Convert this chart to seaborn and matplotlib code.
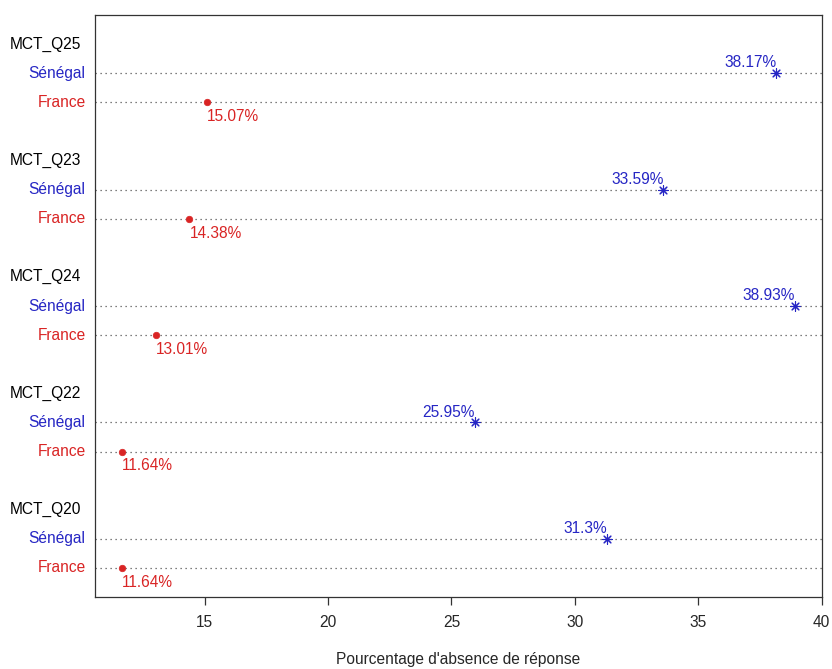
"""
Dot chart: non-response rate per question, France vs Senegal
"""

import numpy as np
import pandas as pd
import matplotlib
matplotlib.use('Agg')
import matplotlib.pyplot as plt
import matplotlib.transforms as mtransforms
import seaborn as sns

# data (bottom to top, as drawn)
questions = ['MCT_Q20', 'MCT_Q22', 'MCT_Q24', 'MCT_Q23', 'MCT_Q25']
france = [11.64, 11.64, 13.01, 14.38, 15.07]
senegal = [31.3, 25.95, 38.93, 33.59, 38.17]
france_labels = ['11.64%', '11.64%', '13.01%', '14.38%', '15.07%']
senegal_labels = ['31.3%', '25.95%', '38.93%', '33.59%', '38.17%']
x_ticks = [15, 20, 25, 30, 35, 40]

RED = '#d92424'
BLUE = '#2626c4'

sns.set_style('white')
plt.rcParams['font.family'] = ['Liberation Sans', 'DejaVu Sans']
FS = 11.2

# each group takes 4 rows: France, Senegal, header, blank
rows = []
for i, q in enumerate(questions):
    base = 4 * i
    rows.append({'question': q, 'pays': 'France', 'value': france[i],
                 'label': france_labels[i], 'y': base + 1})
    rows.append({'question': q, 'pays': 'Sénégal', 'value': senegal[i],
                 'label': senegal_labels[i], 'y': base + 2})
df = pd.DataFrame(rows)

fig = plt.figure(figsize=(8.32, 6.69), dpi=100)
ax = fig.add_axes([95 / 832, 1 - 597 / 669, 727 / 832, 582 / 669])

# dotted guide lines for each country row
for y in df['y']:
    ax.axhline(y, color='#555555', linestyle=(0, (1, 3)), linewidth=0.9, zorder=1)

fr = df[df['pays'] == 'France']
sn = df[df['pays'] == 'Sénégal']
sns.scatterplot(data=fr, x='value', y='y', ax=ax, color=RED, marker='o',
                s=22, edgecolor=RED, linewidth=0.5, zorder=3)
sns.scatterplot(data=sn, x='value', y='y', ax=ax, color=BLUE, marker=(8, 2, 0),
                s=48, linewidth=0.8, zorder=3)

# value labels
for _, r in fr.iterrows():
    ax.annotate(r['label'], (r['value'], r['y']), xytext=(0, -5),
                textcoords='offset points', ha='left', va='top',
                color=RED, fontsize=FS)
for _, r in sn.iterrows():
    ax.annotate(r['label'], (r['value'], r['y']), xytext=(0, 2),
                textcoords='offset points', ha='right', va='bottom',
                color=BLUE, fontsize=FS)

# row labels on the left
trans = mtransforms.blended_transform_factory(ax.transAxes, ax.transData)
for i, q in enumerate(questions):
    base = 4 * i
    ax.text(-0.117, base + 3, q, transform=trans, ha='left', va='center',
            color='black', fontsize=FS)
    ax.text(-0.013, base + 2, 'Sénégal', transform=trans, ha='right',
            va='center', color=BLUE, fontsize=FS)
    ax.text(-0.013, base + 1, 'France', transform=trans, ha='right',
            va='center', color=RED, fontsize=FS)

ax.set_xlim(10.55, 40.02)
ax.set_ylim(0, 20)
ax.set_yticks([])
ax.set_xticks(x_ticks)
ax.set_xticklabels([str(t) for t in x_ticks], fontsize=FS)
ax.tick_params(axis='x', direction='out', length=6, width=0.9, pad=7,
               color='#333333', bottom=True)
ax.set_xlabel("Pourcentage d'absence de réponse", fontsize=FS, labelpad=16)
ax.set_ylabel('')

for s in ax.spines.values():
    s.set_visible(True)
    s.set_color('#333333')
    s.set_linewidth(0.9)

plt.savefig('out.png', dpi=100)
plt.close()
